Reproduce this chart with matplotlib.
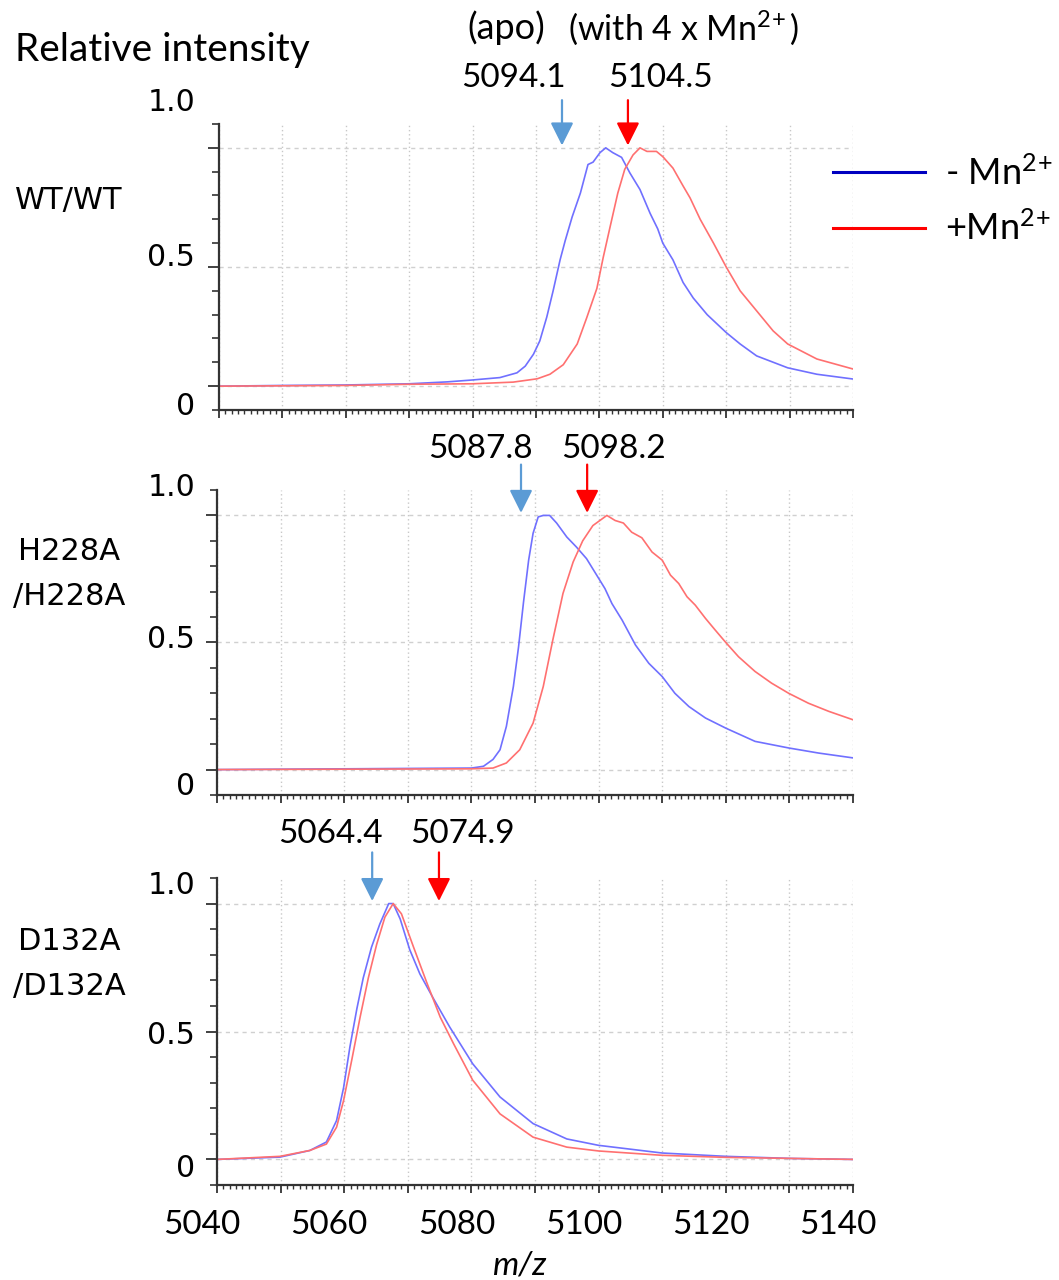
import numpy as np
import matplotlib
matplotlib.use('Agg')
import matplotlib.pyplot as plt
import matplotlib.transforms as mtransforms
from matplotlib.lines import Line2D
from matplotlib.ticker import MultipleLocator

plt.rcParams['font.family'] = ['Lato', 'DejaVu Sans']
plt.rcParams['mathtext.fontset'] = 'custom'
plt.rcParams['mathtext.rm'] = 'Lato'
plt.rcParams['mathtext.it'] = 'Lato:italic'

# ---- data ----
samples = ['WT/WT', 'H228A/H228A', 'D132A/D132A']
row_labels = [['WT/WT'], ['H228A', '/H228A'], ['D132A', '/D132A']]

# apo (- Mn2+)
mz_apo = [
    [5040, 5050, 5060, 5070, 5076, 5080, 5084.3, 5087, 5088.3, 5089.6, 5090.6, 5091.7, 5092.7,
     5093.8, 5094.6, 5095.7, 5097, 5098.2, 5099, 5100.1, 5101, 5102.1, 5103.5, 5104.8,
     5106.4, 5108, 5109.2, 5110, 5111.6, 5113.2, 5114.8, 5117, 5120, 5122.2, 5124.8,
     5129.7, 5134.3, 5140],
    [5040, 5060, 5080, 5081.9, 5083.4, 5084.5, 5085.5, 5086.6, 5087.4, 5088.2, 5089,
     5089.7, 5090.5, 5091.3, 5092.3, 5093.4, 5095, 5096.5, 5098.1, 5099.7, 5101, 5102.1,
     5103.7, 5105.8, 5107.9, 5110, 5112, 5114.2, 5116.8, 5120, 5124.6, 5129.9, 5134.6, 5140],
    [5040, 5049.9, 5054.6, 5057.2, 5058.8, 5059.9, 5060.9, 5062, 5063, 5064.3, 5065.6,
     5067, 5067.7, 5068.8, 5070.3, 5071.9, 5074, 5076.6, 5080.2, 5084.5, 5089.7, 5095,
     5100, 5110, 5120, 5130, 5140],
]
int_apo = [
    [0.0, 0.003, 0.005, 0.01, 0.018, 0.026, 0.036, 0.056, 0.084, 0.134, 0.19, 0.29, 0.40,
     0.53, 0.61, 0.71, 0.81, 0.93, 0.94, 0.98, 1.0, 0.98, 0.96, 0.895,
     0.825, 0.725, 0.66, 0.60, 0.53, 0.435, 0.37, 0.30, 0.225, 0.177, 0.127,
     0.077, 0.05, 0.03],
    [0.0, 0.003, 0.006, 0.013, 0.04, 0.078, 0.17, 0.327, 0.48, 0.66, 0.824,
     0.93, 0.994, 1.0, 1.0, 0.97, 0.915, 0.876, 0.83, 0.765, 0.712, 0.653,
     0.588, 0.49, 0.418, 0.366, 0.30, 0.248, 0.203, 0.163, 0.111, 0.085, 0.065, 0.046],
    [0.0, 0.009, 0.035, 0.068, 0.152, 0.28, 0.44, 0.59, 0.71, 0.83, 0.92,
     1.0, 1.0, 0.94, 0.82, 0.725, 0.63, 0.517, 0.374, 0.244, 0.14, 0.08,
     0.055, 0.025, 0.012, 0.004, 0.0],
]

# with 4 x Mn2+
mz_mn = [
    [5040, 5060, 5070, 5080, 5086.4, 5090.2, 5092.2, 5094.3, 5096.5, 5098, 5099.6,
     5100.6, 5101.7, 5102.9, 5104, 5105.3, 5106.4, 5107.5, 5109, 5110, 5111.6, 5113.2,
     5114.3, 5115.9, 5118, 5120, 5122.2, 5124.8, 5127.4, 5129.7, 5134.3, 5140],
    [5040, 5080, 5083.4, 5085.5, 5087.6, 5089.7, 5091.3, 5092.8, 5094.4, 5096, 5097.5,
     5099.1, 5101.3, 5102.6, 5103.9, 5105.2, 5106.8, 5108.4, 5110, 5111.3, 5112.6,
     5113.9, 5115.2, 5116.8, 5118.3, 5120, 5122, 5124.6, 5127.2, 5129.9, 5133, 5136.2, 5140],
    [5040, 5049.9, 5054.6, 5057.2, 5058.8, 5059.9, 5061.2, 5062.5, 5063.8, 5065.1,
     5066.4, 5067.7, 5069, 5070.9, 5073, 5075.1, 5077.2, 5080.2, 5084.5, 5089.7, 5095,
     5100, 5110, 5120, 5130, 5140],
]
int_mn = [
    [0.0, 0.003, 0.008, 0.01, 0.017, 0.031, 0.05, 0.09, 0.177, 0.287, 0.41,
     0.54, 0.67, 0.81, 0.91, 0.97, 1.0, 0.985, 0.985, 0.963, 0.915, 0.84,
     0.79, 0.70, 0.60, 0.50, 0.40, 0.316, 0.232, 0.177, 0.114, 0.072],
    [0.0, 0.003, 0.006, 0.026, 0.078, 0.183, 0.327, 0.51, 0.693, 0.817, 0.90,
     0.96, 1.0, 0.98, 0.97, 0.934, 0.912, 0.856, 0.824, 0.765, 0.732,
     0.68, 0.647, 0.595, 0.55, 0.50, 0.444, 0.386, 0.34, 0.30, 0.261, 0.229, 0.196],
    [0.0, 0.012, 0.035, 0.06, 0.126, 0.23, 0.39, 0.556, 0.71, 0.84,
     0.947, 1.0, 0.96, 0.83, 0.69, 0.556, 0.452, 0.31, 0.178, 0.087, 0.048,
     0.033, 0.016, 0.008, 0.004, 0.0],
]

peak_apo = [5094.1, 5087.8, 5064.4]
peak_mn = [5104.5, 5098.2, 5074.9]

x_ticks = np.arange(5040, 5141, 10)
x_labeled = [5040, 5060, 5080, 5100, 5120, 5140]

# ---- layout (pixels of the 1059x1280 picture) ----
W, H = 1059, 1280
boxes = [(219, 124, 853, 410), (217, 490, 853, 795), (217, 878, 853, 1185)]
row_label_y = [[200], [552, 597], [942, 987]]
ylab_pos = [[1.19, 0.54, -0.084], [1.11, 0.51, -0.067], [1.07, 0.484, -0.035]]
peaklab_y = [1.295, 1.263, 1.273]
peaklab_dx_apo = [-7.6, -6.3, -6.6]
peaklab_dx_mn = [5.1, 4.1, 3.7]

c_apo, c_mn = '#7070ff', '#ff7070'
geo = 'DejaVu Sans'
fs = 24
sup = r'$^{2\!+}$'

fig = plt.figure(figsize=(W / 100, H / 100), dpi=100)

for i in range(3):
    l, t, r, b = boxes[i]
    ax = fig.add_axes([l / W, 1 - b / H, (r - l) / W, (b - t) / H])
    ax.plot(mz_apo[i], int_apo[i], color=c_apo, lw=1.2)
    ax.plot(mz_mn[i], int_mn[i], color=c_mn, lw=1.2)
    ax.set_xlim(5040, 5140)
    ax.set_ylim(-0.1, 1.1)
    for s in ['top', 'right']:
        ax.spines[s].set_visible(False)
    for s in ['left', 'bottom']:
        ax.spines[s].set_color('#333333')
        ax.spines[s].set_linewidth(1.6)

    ax.set_yticks([0, 0.5, 1.0])
    ax.set_yticklabels([])
    ax.yaxis.set_minor_locator(MultipleLocator(0.1))
    ax.set_xticks(x_ticks)
    ax.set_xticklabels([])
    ax.xaxis.set_minor_locator(MultipleLocator(1))
    ax.tick_params(axis='y', which='major', length=8, width=1.3, color='#333333')
    ax.tick_params(axis='y', which='minor', length=5, width=1.2, color='#333333')
    ax.tick_params(axis='x', which='major', length=6, width=1.3, color='#333333')
    ax.tick_params(axis='x', which='minor', length=3, width=1.0, color='#333333')
    ax.grid(axis='x', which='major', color='#c8c8c8', ls=(0, (1, 2)), lw=1)
    ax.grid(axis='y', which='major', color='#d0d0d0', ls=(0, (3, 3)), lw=1)
    ax.set_axisbelow(True)

    if i == 2:
        # m/z labels sit a little left of their ticks in the original
        shift = mtransforms.ScaledTranslation(-15 / 100, 0, fig.dpi_scale_trans)
        for v in x_labeled:
            ax.text(v, -40 / (b - t), str(v), transform=ax.get_xaxis_transform() + shift,
                    ha='center', va='center', fontsize=fs)

    # y labels placed as in the figure
    trans = mtransforms.blended_transform_factory(fig.transFigure, ax.transData)
    for yv, txt in zip(ylab_pos[i], ['1.0', '0.5', '0']):
        ax.text(195 / W, yv, txt, transform=trans, ha='right', va='center',
                fontsize=21.5, family=geo)

    # peak arrows and values
    for m, c, dx in [(peak_apo[i], '#5b9bd5', peaklab_dx_apo[i]),
                     (peak_mn[i], '#ff0000', peaklab_dx_mn[i])]:
        ax.annotate('', xy=(m, 1.01), xytext=(m, 1.2),
                    arrowprops=dict(arrowstyle='-|>,head_length=0.7,head_width=0.35',
                                    color=c, lw=1.6, mutation_scale=20,
                                    shrinkA=0, shrinkB=0),
                    annotation_clip=False)
        ax.text(m + dx, peaklab_y[i], f'{m:.1f}', ha='center', va='center',
                fontsize=fs)

    for yy, txt in zip(row_label_y[i], row_labels[i]):
        fig.text(69 / W, 1 - yy / H, txt, ha='center', va='center',
                 fontsize=22, family=geo)

fig.text(519 / W, 1 - 1265 / H, 'm/z', ha='center', va='center',
         fontsize=fs, style='italic')
fig.text(15 / W, 1 - 50 / H, 'Relative intensity', ha='left', va='center', fontsize=28)
fig.text(506 / W, 1 - 28 / H, '(apo)', ha='center', va='center', fontsize=26)
fig.text(684 / W, 1 - 28 / H, '(with 4 x Mn' + sup + ')', ha='center', va='center', fontsize=24.5)

handles = [Line2D([], [], color='#0000c0', lw=2.2), Line2D([], [], color='#ff0000', lw=2.2)]
fig.legend(handles, ['- Mn' + sup, '+Mn' + sup], loc='center left',
           bbox_to_anchor=(833 / W, 1 - 201 / H), frameon=False, fontsize=26,
           handlelength=92 / (26 * 100 / 72), handletextpad=20 / (26 * 100 / 72),
           labelspacing=0.55, borderpad=0, borderaxespad=0)

fig.savefig('out.png', dpi=100)
